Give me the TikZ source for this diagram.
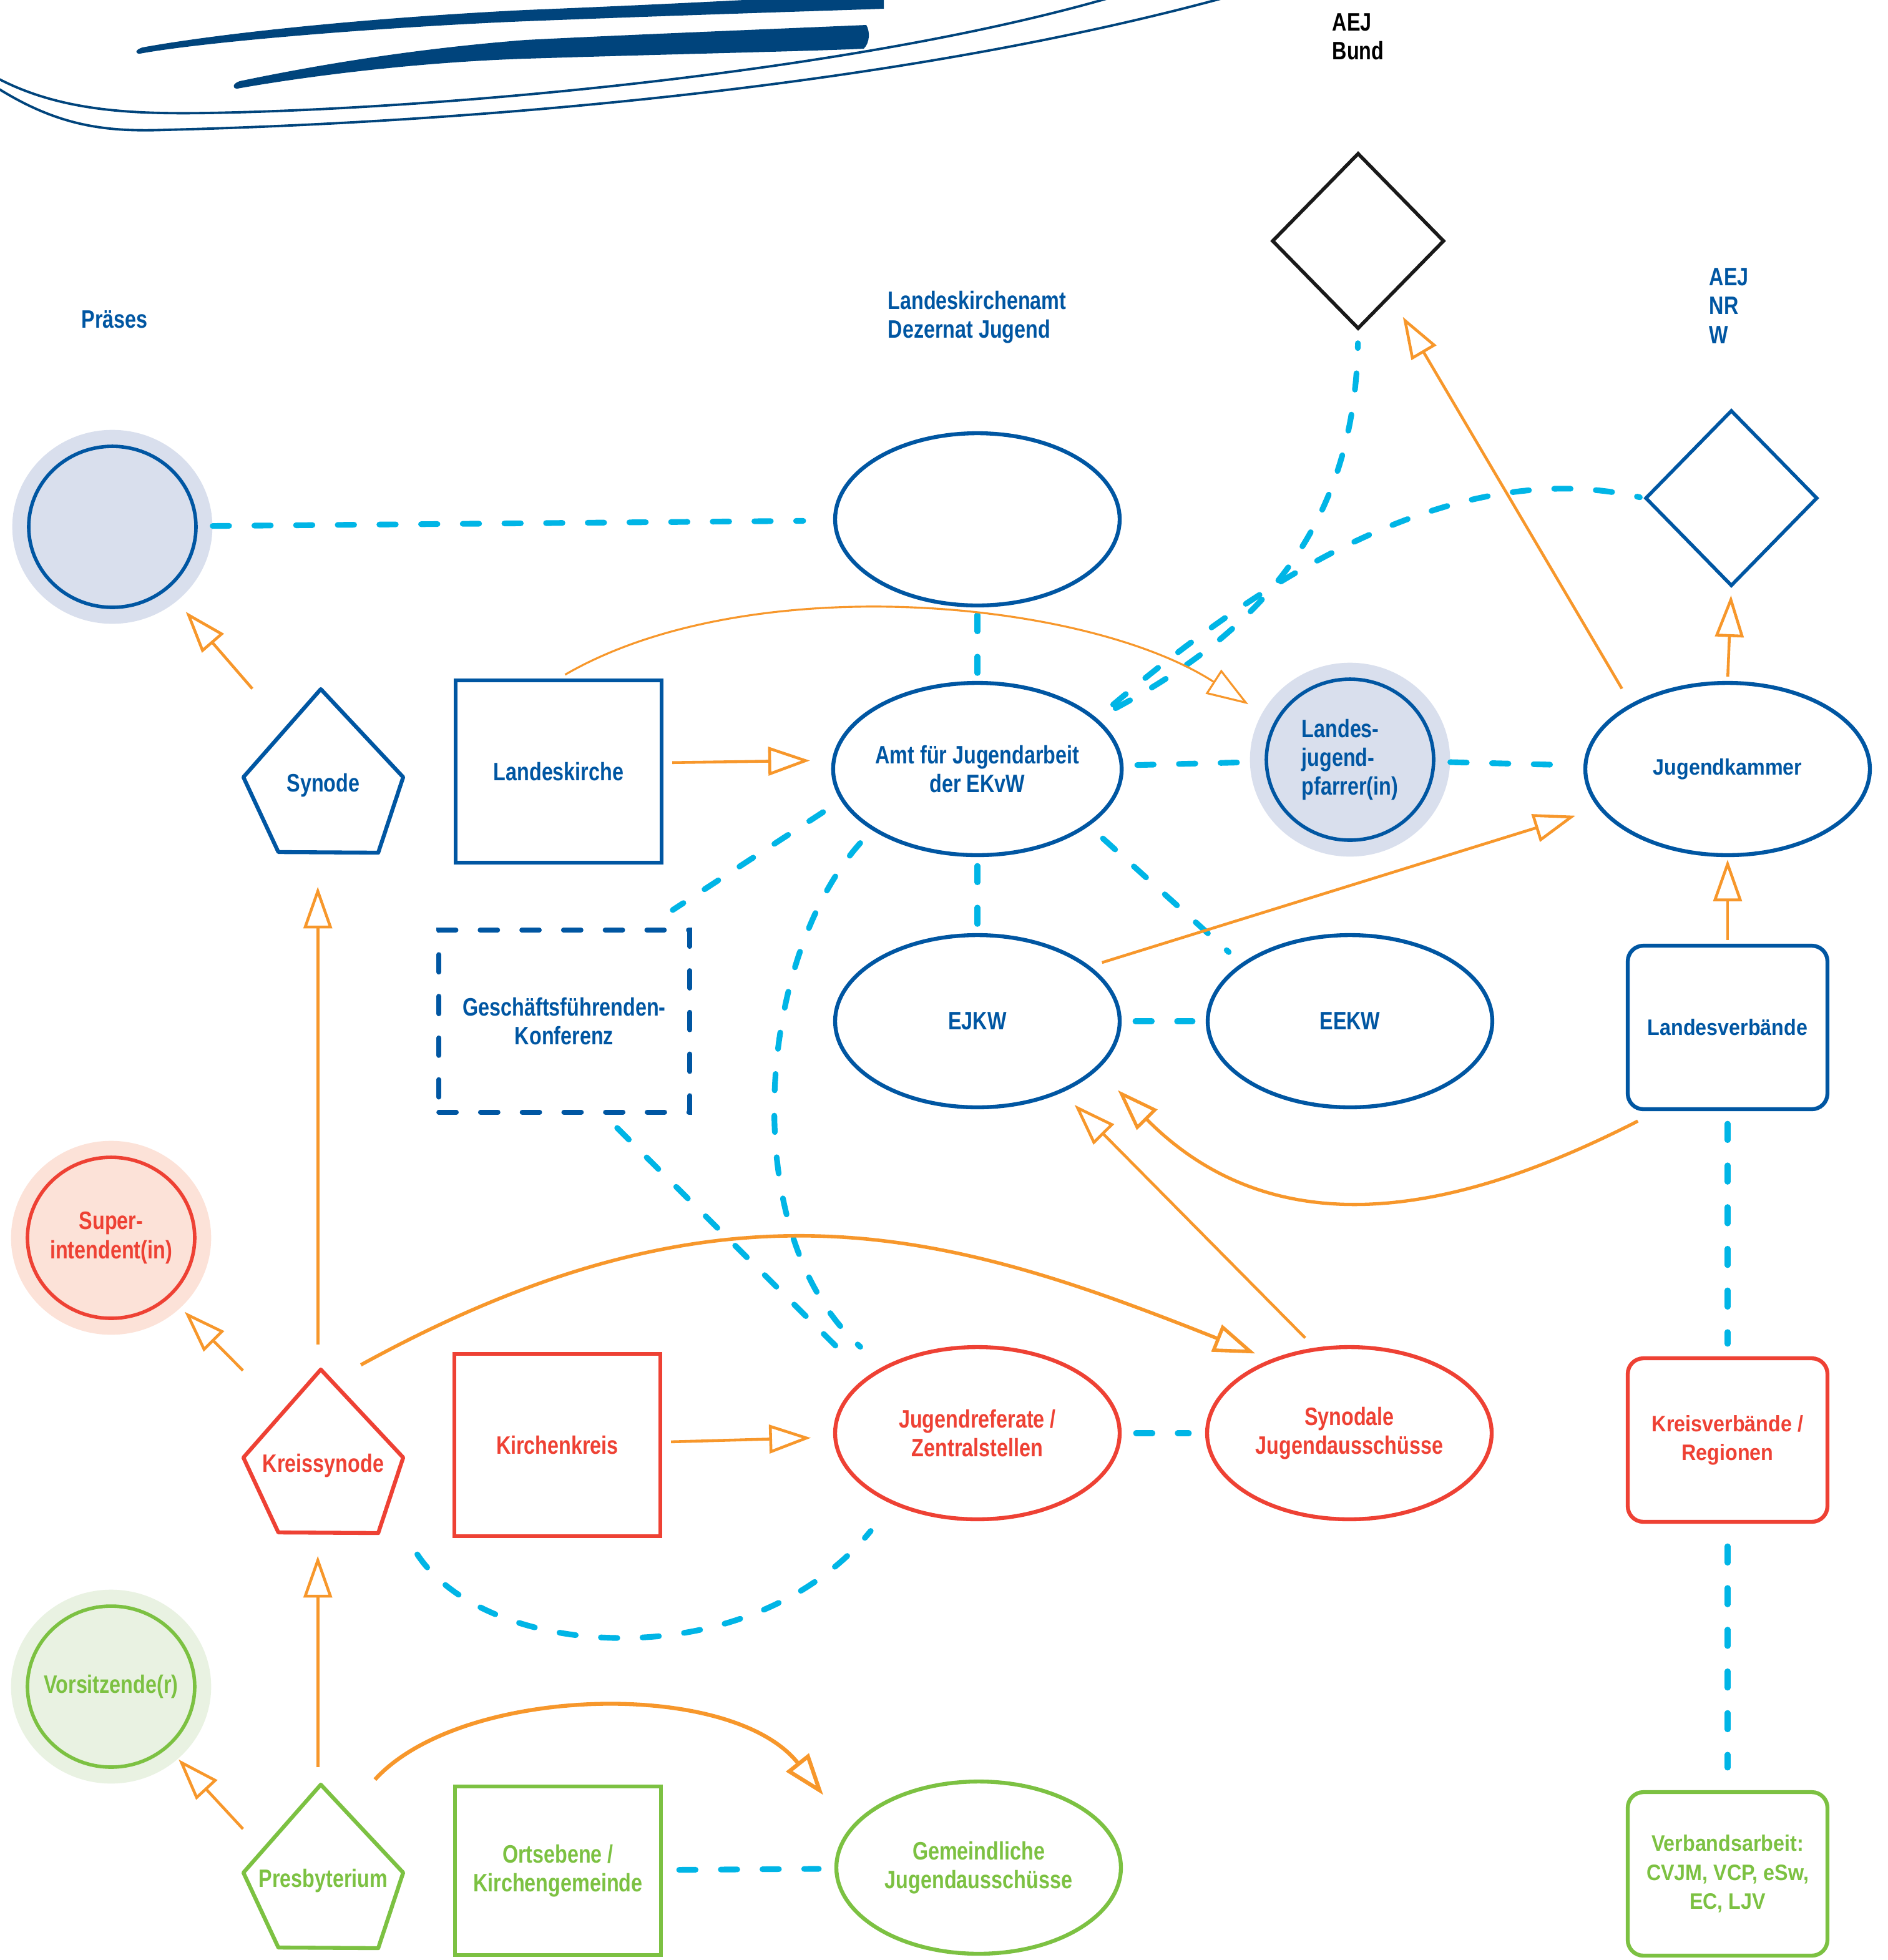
\documentclass[tikz,border=0pt]{standalone}
\usepackage{fontspec}
\setmainfont{Liberation Sans}
\newfontfamily\narrowsans{Liberation Sans}[FakeStretch=0.8]
\newfontfamily\widesans{Liberation Sans}[FakeStretch=0.9]
\usepackage{tikz}
\usetikzlibrary{shapes.geometric}
\usetikzlibrary{arrows.meta}

\definecolor{ekblue}{RGB}{0,86,162}
\definecolor{logoblue}{RGB}{0,68,124}
\definecolor{linkcyan}{RGB}{0,181,230}
\definecolor{relorange}{RGB}{247,151,43}
\definecolor{ekred}{RGB}{238,65,52}
\definecolor{ekgreen}{RGB}{124,193,66}
\definecolor{haloblue}{RGB}{217,223,237}
\definecolor{halored}{RGB}{252,226,216}
\definecolor{halogreen}{RGB}{233,242,226}

\newcommand{\narrowtext}{\narrowsans\bfseries\fontsize{11.5}{13.2}\selectfont}
\newcommand{\widetext}{\widesans\bfseries\fontsize{10.2}{13.2}\selectfont}

\tikzset{
  titel/.style={anchor=north west, inner sep=0pt, align=left, font=\narrowtext},
  gremium/.style={ellipse, draw, line width=1.8pt, minimum width=4.56cm, minimum height=2.76cm, inner sep=0pt, align=center, font=\narrowtext},
  person/.style={ellipse, draw, line width=1.6pt, fill=#1, preaction={draw=#1, line width=15pt}, minimum width=2.68cm, minimum height=2.58cm, inner sep=-8pt, align=center, font=\narrowtext},
  synodal/.style={rectangle, minimum width=2.56cm, minimum height=2.62cm, inner sep=0pt, text height=21.5pt, text depth=2.5pt, font=\narrowtext},
  ebene/.style={rectangle, draw, line width=1.8pt, minimum width=3.3cm, minimum height=2.92cm, align=center, font=\narrowtext},
  konferenz/.style={rectangle, draw, line width=2.2pt, dash pattern=on 8pt off 11pt, line cap=round, minimum width=4.02cm, minimum height=2.92cm, align=center, font=\narrowtext},
  verband/.style={rectangle, rounded corners=0.25cm, draw, line width=1.8pt, minimum width=3.2cm, minimum height=2.62cm, align=center, font=\widetext},
  dachverband/.style={diamond, draw, line width=1.6pt, minimum width=2.76cm, minimum height=2.82cm, inner sep=0pt},
  link/.style={draw=linkcyan, line width=2.6pt, line cap=round, dash pattern=on 7.5pt off 11.5pt},
}

\newcommand{\synodalform}[2]{\draw[#2, line width=1.8pt, line join=round]
  ([shift={(-2,-65.5)}]#1.center) -- ([shift={(64,5)}]#1.center) -- ([shift={(44,65.5)}]#1.center)
  -- ([shift={(-36,65)}]#1.center) -- ([shift={(-64,5)}]#1.center) -- cycle;}

\begin{document}
\begin{tikzpicture}[x=0.02cm, y=-0.02cm]
\useasboundingbox (0,0) rectangle (1512.5,1570);

% logo
\begin{scope}
    \clip (0,0) rectangle (1512.5,1570);
    \fill[logoblue] (112,43) .. controls (160,34) and (300,22) .. (421,17) .. controls (550,12) and (650,9) .. (708,7)
        -- (708,-6) .. controls (600,0) and (520,4) .. (421,8) .. controls (300,14) and (180,26) .. (114,38)
        .. controls (108,40) and (108,43) .. (112,43) -- cycle;
    \fill[logoblue] (190,71) .. controls (240,62) and (330,50) .. (421,47) .. controls (550,43) and (650,41) .. (692,39)
        .. controls (697,34) and (697,25) .. (694,20) .. controls (600,24) and (500,28) .. (421,32)
        .. controls (320,40) and (240,55) .. (192,65) .. controls (186,67) and (186,71) .. (190,71) -- cycle;
    \draw[logoblue, line width=1.1pt] (-20,52) .. controls (40,92) and (110,92) .. (189,90) .. controls (380,85) and (700,55) .. (900,-5);
    \draw[logoblue, line width=1.1pt] (-15,62) .. controls (40,100) and (80,106) .. (133,104) .. controls (300,100) and (700,80) .. (1010,-10);
\end{scope}

\begin{scope}[every node/.style={titel}]
    \node[color=black] (aejbundtitel) at (1067,10.5) {AEJ\\Bund};
    \node[color=ekblue] (aejnrwtitel) at (1369,214.5) {AEJ\\NR\\W};
    \node[color=ekblue] (praesestitel) at (65,248.5) {Präses};
    \node[color=ekblue] (lkatitel) at (711,232.5) {Landeskirchenamt\\Dezernat Jugend};
\end{scope}

\node[dachverband, draw=black!90] (aejbund) at (1088,193) {};

\begin{scope}[every node/.append style={color=ekblue}]
    \node[dachverband] (aejnrw) at (1387,399) {};
    \node[person=haloblue] (praeses) at (90,422) {};
    \node[gremium] (lka) at (783,416) {};
    \node[synodal] (synode) at (259,617.5) {Synode};
    \node[ebene] (landeskirche) at (447.5,618) {Landeskirche};
    \node[gremium] (amt) at (783,616) {Amt für Jugendarbeit\\der EKvW};
    \node[person=haloblue, align=left] (ljpfarrer) at (1081.5,608.5) {Landes-\\jugend-\\pfarrer(in)};
    \node[gremium, font=\widetext] (jugendkammer) at (1384,616) {Jugendkammer};
    \node[konferenz] (gfk) at (452,818) {Geschäftsführenden-\\Konferenz};
    \node[gremium] (ejkw) at (783,818) {EJKW};
    \node[gremium] (eekw) at (1081.5,818) {EEKW};
    \node[verband] (landesverbaende) at (1384,823) {Landesverbände};
\end{scope}
\synodalform{synode}{ekblue}

\begin{scope}[every node/.append style={color=ekred}]
    \node[person=halored] (superintendent) at (89,991.5) {Super-\\intendent(in)};
    \node[synodal] (kreissynode) at (259,1162.5) {Kreissynode};
    \node[ebene] (kirchenkreis) at (446.5,1157.5) {Kirchenkreis};
    \node[gremium] (jugendreferate) at (783,1148) {Jugendreferate /\\Zentralstellen};
    \node[gremium] (synodale) at (1081,1148) {Synodale\\Jugendausschüsse};
    \node[verband] (kreisverbaende) at (1384,1153.5) {Kreisverbände /\\Regionen};
\end{scope}
\synodalform{kreissynode}{ekred}

\begin{scope}[every node/.append style={color=ekgreen}]
    \node[person=halogreen] (vorsitzende) at (89,1351) {Vorsitzende(r)};
    \node[synodal] (presbyterium) at (259,1495) {Presbyterium};
    \node[ebene, minimum height=2.7cm] (ortsebene) at (447,1498.5) {Ortsebene /\\Kirchengemeinde};
    \node[gremium] (gemeindliche) at (784,1496) {Gemeindliche\\Jugendausschüsse};
    \node[verband] (verbandsarbeit) at (1384,1501) {Verbandsarbeit:\\CVJM, VCP, eSw,\\EC, LJV};
\end{scope}
\synodalform{presbyterium}{ekgreen}

\begin{scope}[every edge/.style={link}]
    \path[shorten <=0.24cm, shorten >=0.48cm] (praeses) edge (lka);
    \path[shorten <=0.12cm, shorten >=0.04cm] (lka) edge (amt);
    \path[shorten <=0.22cm, shorten >=0.16cm] (amt) edge (ljpfarrer);
    \path[shorten <=0.24cm, shorten >=0.2cm] (ljpfarrer) edge (jugendkammer);
    \path[shorten <=0.14cm, shorten >=0.12cm] (amt) edge (ejkw);
    \path[shorten <=0.22cm, shorten >=0.21cm] (ejkw) edge (eekw);
    \path[shorten <=0.3cm, shorten >=0.27cm] (amt.333) edge (eekw.152);
    \path[shorten <=0.34cm, shorten >=0.52cm] (amt.193) edge (gfk.49);
    \path[shorten <=0.3cm, shorten >=0.43cm] (gfk.293) edge (jugendreferate.153);
    \path[shorten <=0.2cm, shorten >=0.2cm] (landesverbaende) edge (kreisverbaende);
    \path[shorten <=0.36cm, shorten >=0.36cm] (kreisverbaende) edge (verbandsarbeit);
    \path[shorten <=0.23cm, shorten >=0.26cm] (jugendreferate) edge (synodale);
    \path[shorten <=0.26cm, shorten >=0.25cm] (ortsebene) edge (gemeindliche);
    \draw[link, shorten <=0.28cm, shorten >=0.48cm] (amt.210) .. controls (605,770) and (590,990) .. (jugendreferate.145);
    \draw[link, shorten <=0.34cm, shorten >=0.2cm] (amt.23) .. controls (1000,510) and (1085,430) .. (aejbund.south);
    \draw[link, shorten <=0.34cm, shorten >=0.06cm] (amt.23) .. controls (980,490) and (1150,360) .. (aejnrw.west);
    \draw[link, shorten <=0.4cm, shorten >=0.55cm] (kreissynode.south east) .. controls (390,1330) and (600,1345) .. (jugendreferate.220);
\end{scope}

\begin{scope}[>={Triangle[open, length=19pt, width=13pt]},
              every edge/.style={draw=relorange, line width=1.3pt}]
    \path[->, shorten >=0.46cm] (synode) edge (praeses);
    \path[->, shorten <=0.14cm, shorten >=0.34cm] ([yshift=4pt]landeskirche.east) edge ([yshift=4pt]amt.west);
    \path[->, shorten <=0.39cm, shorten >=0.54cm] ([xshift=-2.5pt]kreissynode.north) edge ([xshift=-2.5pt]synode.south);
    \path[->, shorten >=0.33cm] (kreissynode) edge (superintendent);
    \path[->, shorten <=0.14cm, shorten >=0.36cm] (kirchenkreis) edge (jugendreferate);
    \path[->, shorten <=0.22cm, shorten >=0.28cm] (synodale.112) edge (ejkw.320);
    \path[->, shorten <=0.2cm, shorten >=0.39cm] (ejkw.26) edge (jugendkammer.197);
    \path[->, shorten <=0.28cm, shorten >=0.37cm] (jugendkammer.146) edge (aejbund);
    \path[->, shorten <=0.07cm, shorten >=0.12cm] (jugendkammer.north) edge (aejnrw.south);
    \path[->, shorten <=0.06cm, shorten >=0.04cm] (landesverbaende.north) edge (jugendkammer.south);
    \path[->, shorten <=0.27cm, shorten >=0.36cm] ([xshift=-2.5pt]presbyterium.north) edge ([xshift=-2.5pt]kreissynode.south);
    \path[->, shorten >=0.25cm] (presbyterium.155) edge (vorsitzende);
    \draw[->, relorange, line width=0.9pt, shorten <=0.12cm, shorten >=0.5cm] (landeskirche.north) .. controls (600,455) and (870,480) .. (ljpfarrer.153);
    \draw[->, relorange, line width=1.6pt, shorten <=0.14cm, shorten >=0.26cm] (kreissynode.70) .. controls (583,932) and (761,987) .. (synodale.137);
    \draw[->, relorange, line width=1.5pt, shorten <=0.35cm, shorten >=0.46cm] (landesverbaende.230) .. controls (1200,955) and (1036,1015) .. (ejkw.338);
    \draw[->, relorange, line width=1.8pt, shorten <=0.1cm, shorten >=0.68cm] (presbyterium.60) .. controls (369,1350) and (585,1344) .. (gemeindliche.163);
\end{scope}

\end{tikzpicture}
\end{document}
